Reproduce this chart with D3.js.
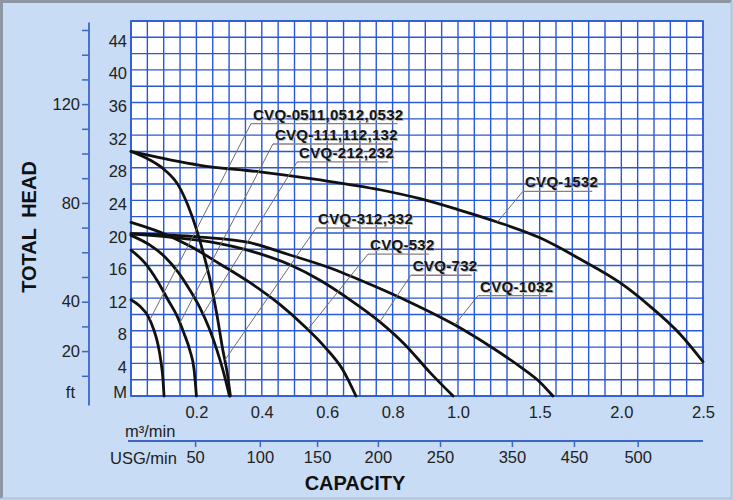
<!DOCTYPE html>
<html><head><meta charset="utf-8">
<script src="https://cdn.jsdelivr.net/npm/d3@7"></script>
<style>
body{margin:0;background:#c8dcf5;}
svg{display:block;font-family:"Liberation Sans",Arial,Helvetica,sans-serif;}
</style>
</head><body>
<svg id="chart" width="733" height="500"></svg>
<script>
// ---------- data ----------
const seriesNames = ["CVQ-0511,0512,0532","CVQ-111,112,132","CVQ-212,232","CVQ-312,332","CVQ-532","CVQ-732","CVQ-1032","CVQ-1532"];
// capacity m3/min, head m
const curve0511 = [[0,11.8],[0.0275,11.0],[0.052,9.8],[0.07,8.1],[0.0826,6.3],[0.0917,4.2],[0.0979,2.0],[0.101,0]];
const curve111  = [[0,17.9],[0.043,16.3],[0.0795,14.2],[0.113,11.8],[0.141,9.8],[0.162,7.7],[0.18,5.6],[0.193,3.2],[0.2,0]];
const curve212  = [[0,19.7],[0.058,18.5],[0.104,17.05],[0.144,15.2],[0.18,13.0],[0.211,10.8],[0.239,8.3],[0.263,5.6],[0.281,3.2],[0.301,0]];
const curve312  = [[0,30],[0.058,28.95],[0.104,27.7],[0.144,25.9],[0.174,23.4],[0.199,20.6],[0.22,17.7],[0.242,14.2],[0.263,9.9],[0.281,5.6],[0.294,2.9],[0.304,0]];
const curve532  = [[0,21.3],[0.0887,20.1],[0.18,18.4],[0.272,16.2],[0.364,13.9],[0.456,11.2],[0.532,8.5],[0.593,6.0],[0.648,3.2],[0.688,0]];
const curve732  = [[0,19.9],[0.119,19.5],[0.242,18.9],[0.364,17.8],[0.486,16.1],[0.578,14.2],[0.67,11.8],[0.761,9.1],[0.838,6.3],[0.914,2.9],[0.985,0]];
const curve1032 = [[0,19.9],[0.211,19.5],[0.364,18.8],[0.486,17.3],[0.609,15.7],[0.731,13.7],[0.853,11.5],[0.991,8.7],[1.196,6.1],[1.38,3.6],[1.502,1.7],[1.581,0]];
const curve1532 = [[0,30],[0.211,28.3],[0.394,27.5],[0.578,26.5],[0.761,25.3],[0.884,24.2],[0.997,22.9],[1.239,21.35],[1.502,19.4],[1.747,16.8],[1.992,13.9],[2.176,11.0],[2.359,7.6],[2.5,4.2]];
const curves = [curve0511,curve111,curve212,curve312,curve532,curve732,curve1032,curve1532];

// annotation anchors (data units): label left x / baseline head, leader end capacity
const labelCap  = [0.373,0.44,0.514,0.572,0.731,0.862,1.135,1.41];
const labelHead = [33.9,31.4,29.2,21.1,17.9,15.3,12.8,25.6];
const leaderCap = [0.058,0.15,0.22,0.287,0.541,0.761,0.99,1.24];

const headTicks = [0,4,8,12,16,20,24,28,32,36,40,44];
const ftTicks = [10,20,30,40,50,60,70,80,90,100,110,120,130,140,150];
const ftLabels = [20,40,80,120];
const capTicks = [0.2,0.4,0.6,0.8,1.0,1.5,2.0,2.5];
const usgTicks = [50,100,150,200,250,350,450,500];
const usgAtCap = [0.196,0.394,0.569,0.755,0.945,1.33,1.71,2.10];

// ---------- scales ----------
const svg = d3.select("#chart");
const x = d3.scaleLinear().domain([0,1,2.5]).range([131,458,703]);
const y = d3.scaleLinear().domain([0,46]).range([396,21]);
const yFt = d3.scaleLinear().domain([0,150]).range([400.5,30]);
const usg = d3.scaleLinear().domain(usgTicks).range(usgAtCap.map(x));

const gridBlue = "#2a58d6";
const axisBlue = "#3a66c8";

// background + frame
svg.append("rect").attr("x",0).attr("y",0).attr("width",733).attr("height",500).attr("fill","#c8dcf5");
svg.append("path").attr("d","M1.5,498.5 V1.5 H731.5").attr("fill","none").attr("stroke","#8d96a3").attr("stroke-width",3);
svg.append("path").attr("d","M731.5,1.5 V498.5 H1.5").attr("fill","none").attr("stroke","#b4c3d6").attr("stroke-width",2);

// plot area
svg.append("rect").attr("x",x(0)).attr("y",y(46)).attr("width",x(2.5)-x(0)).attr("height",y(0)-y(46)).attr("fill","#ffffff");
const xGrid = d3.range(0,1.0001,0.05).concat(d3.range(1.1,2.5001,0.1));
const yGrid = d3.range(0,46.01,2);
const grid = svg.append("g").attr("stroke",gridBlue).attr("stroke-width",1.4);
grid.selectAll("line.v").data(xGrid).join("line").attr("class","v")
  .attr("x1",d=>x(d)).attr("x2",d=>x(d)).attr("y1",y(0)).attr("y2",y(46));
grid.selectAll("line.h").data(yGrid).join("line").attr("class","h")
  .attr("x1",x(0)).attr("x2",x(2.5)).attr("y1",d=>y(d)).attr("y2",d=>y(d));
svg.append("rect").attr("x",x(0)).attr("y",y(46)).attr("width",x(2.5)-x(0)).attr("height",y(0)-y(46))
  .attr("fill","none").attr("stroke",gridBlue).attr("stroke-width",1.6);

// ---------- curves ----------
const line = d3.line().x(d=>x(d[0])).y(d=>y(d[1])).curve(d3.curveMonotoneX);
const paths = curves.map((c,i)=> svg.append("path").datum(c).attr("d",line)
  .attr("fill","none").attr("stroke","#111").attr("stroke-width",2.8).attr("stroke-linecap","round").node());

function pointAtX(path, px){
  const L = path.getTotalLength();
  let best = null, bd = 1e9;
  for(let s=0;s<=L;s+=0.5){ const p = path.getPointAtLength(s); const d=Math.abs(p.x-px); if(d<bd){bd=d;best=p;} }
  return best;
}

// ---------- annotations ----------
const ann = svg.append("g");
seriesNames.forEach((name,i)=>{
  const lx = x(labelCap[i]), ly = y(labelHead[i]);
  ann.append("text").attr("x",lx+1).attr("y",ly+1).text(name)
    .attr("font-size",15).attr("font-weight","bold").attr("letter-spacing",0.3).attr("fill","#b9b9b9");
  const t = ann.append("text").attr("x",lx).attr("y",ly).text(name)
    .attr("font-size",15).attr("font-weight","bold").attr("letter-spacing",0.3).attr("fill","#151515");
  const w = t.node().getComputedTextLength();
  ann.append("line").attr("x1",lx-2).attr("x2",lx+w-6).attr("y1",ly+4).attr("y2",ly+4)
    .attr("stroke","#8a7f80").attr("stroke-width",1.3);
  const p = pointAtX(paths[i], x(leaderCap[i]));
  ann.append("line").attr("x1",lx-2).attr("y1",ly+4).attr("x2",p.x).attr("y2",p.y)
    .attr("stroke","#6e6e6e").attr("stroke-width",1);
});

// ---------- axes ----------
const mAxis = svg.append("g").attr("transform",`translate(127,0)`)
  .call(d3.axisLeft(y).tickValues(headTicks).tickSize(0).tickPadding(0).tickFormat(d=> d===0?"M":d));
mAxis.select(".domain").remove();
mAxis.selectAll("text").attr("font-size",16.5).attr("fill","#222").attr("font-family","Liberation Sans, Arial, sans-serif").attr("dy","0.55em");
mAxis.selectAll(".tick").filter(d=>d===0).select("text").attr("dy","0.1em");

const ftAxis = svg.append("g").attr("transform",`translate(89,0)`)
  .call(d3.axisLeft(yFt).tickValues(ftTicks).tickSize(7).tickPadding(2).tickFormat(d=> ftLabels.includes(d)?d:""));
ftAxis.select(".domain").remove();
ftAxis.selectAll("line").attr("stroke",axisBlue).attr("stroke-width",1.5);
ftAxis.selectAll("text").attr("font-size",16.5).attr("fill","#222").attr("font-family","Liberation Sans, Arial, sans-serif");
svg.append("line").attr("x1",89).attr("x2",89).attr("y1",yFt(153)).attr("y2",yFt(-2)).attr("stroke",axisBlue).attr("stroke-width",1.8);
svg.append("text").attr("x",75).attr("y",y(0)+2).attr("text-anchor","end").attr("font-size",16.5).attr("fill","#222").text("ft");

const capAxis = svg.append("g").attr("transform",`translate(0,${y(0)})`)
  .call(d3.axisBottom(x).tickValues(capTicks).tickSize(0).tickPadding(10).tickFormat(d3.format(".1f")));
capAxis.select(".domain").remove();
capAxis.selectAll("text").attr("font-size",16.5).attr("fill","#222").attr("font-family","Liberation Sans, Arial, sans-serif");
svg.append("text").attr("x",125).attr("y",437).attr("font-size",16.5).attr("fill","#222").text("m³/min");

svg.append("line").attr("x1",128).attr("x2",x(2.5)).attr("y1",441).attr("y2",441).attr("stroke",axisBlue).attr("stroke-width",1.8);
const usgAxis = svg.append("g").attr("transform","translate(0,441)")
  .call(d3.axisBottom(usg).tickValues(usgTicks).tickSize(6).tickPadding(4));
usgAxis.select(".domain").remove();
usgAxis.selectAll("line").attr("stroke",axisBlue).attr("stroke-width",1.5);
usgAxis.selectAll("text").attr("font-size",16.5).attr("fill","#222").attr("font-family","Liberation Sans, Arial, sans-serif");
svg.append("text").attr("x",110).attr("y",464).attr("font-size",16.5).attr("fill","#222").text("USG/min");

svg.append("text").attr("x",355).attr("y",490).attr("text-anchor","middle").attr("font-size",20).attr("font-weight","bold").attr("fill","#111").text("CAPACITY");
svg.append("text").attr("transform","translate(36,227) rotate(-90)").attr("text-anchor","middle")
  .attr("font-size",20).attr("font-weight","bold").attr("fill","#111").attr("word-spacing",5).text("TOTAL HEAD");
</script>
</body></html>
